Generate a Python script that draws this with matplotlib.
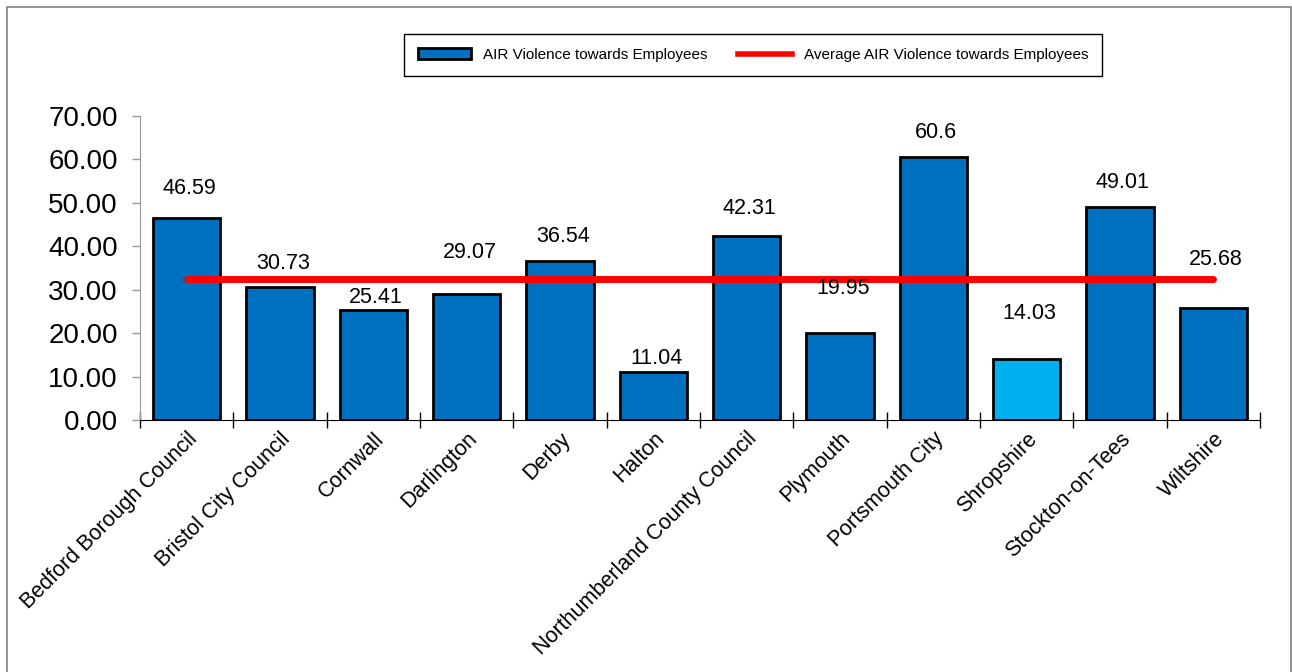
import matplotlib
matplotlib.use("Agg")
import matplotlib.pyplot as plt
from matplotlib.patches import Patch, Rectangle
from matplotlib.lines import Line2D

categories = ["Bedford Borough Council", "Bristol City Council", "Cornwall", "Darlington",
              "Derby", "Halton", "Northumberland County Council", "Plymouth",
              "Portsmouth City", "Shropshire", "Stockton-on-Tees", "Wiltshire"]
values = [46.59, 30.73, 25.41, 29.07, 36.54, 11.04, 42.31, 19.95, 60.6, 14.03, 49.01, 25.68]
value_labels = ["46.59", "30.73", "25.41", "29.07", "36.54", "11.04", "42.31", "19.95",
                "60.6", "14.03", "49.01", "25.68"]
average = 32.58
highlight = "Shropshire"

# label heights above the bar tops (Excel placed them unevenly)
label_offsets = [6.8, 5.2, 2.7, 9.6, 5.8, 3.2, 6.3, 10.4, 5.5, 10.6, 5.6, 11.2]

plt.rcParams["font.family"] = ["Liberation Sans", "DejaVu Sans"]

fig = plt.figure(figsize=(12.92, 6.72), dpi=100)
ax = fig.add_axes([0.1084, 0.375, 0.8669, 0.4524])

x = list(range(len(categories)))
colors = ["#00B0F0" if c == highlight else "#0070C0" for c in categories]
ax.bar(x, values, width=0.72, color=colors, edgecolor="black", linewidth=2, zorder=2)
ax.plot(x, [average] * len(x), color="#FF0000", linewidth=5, solid_capstyle="round", zorder=3)

for i, (v, lab) in enumerate(zip(values, value_labels)):
    ax.text(i + 0.03, v + label_offsets[i], lab, ha="center", va="center", fontsize=15.5, zorder=4)

ax.set_xlim(-0.5, len(categories) - 0.5)
ax.set_ylim(0, 70)
ax.set_yticks(range(0, 71, 10))
ax.set_yticklabels([f"{t:.2f}" for t in range(0, 71, 10)], fontsize=20)

ax.set_xticks(x)
ax.set_xticklabels(categories, rotation=45, ha="right", rotation_mode="anchor", fontsize=15.5)
ax.tick_params(axis="x", length=0, pad=6)
ax.set_xticks([i - 0.5 for i in range(len(categories) + 1)], minor=True)
ax.tick_params(axis="x", which="minor", direction="inout", length=12, width=1, color="black")
ax.tick_params(axis="y", direction="out", length=6, width=1, color="#999999", pad=10)

for s in ["top", "right"]:
    ax.spines[s].set_visible(False)
ax.spines["left"].set_color("#999999")
ax.spines["bottom"].set_color("black")

handles = [Patch(facecolor="#0070C0", edgecolor="black", linewidth=2),
           Line2D([], [], color="#FF0000", linewidth=4)]
leg = fig.legend(handles, ["AIR Violence towards Employees", "Average AIR Violence towards Employees"],
                 loc="center", bbox_to_anchor=(0.5828, 0.918), ncol=2, fontsize=11,
                 fancybox=False, edgecolor="black", framealpha=1, borderpad=0.9,
                 columnspacing=2.0, handlelength=3.5)
leg.get_frame().set_linewidth(1)

fig.patches.append(Rectangle((7 / 1292, -0.05), 1284 / 1292, 1.05 - 7 / 672,
                             transform=fig.transFigure, fill=False, edgecolor="#808080", linewidth=1.2))

fig.savefig("out.png", dpi=100)
